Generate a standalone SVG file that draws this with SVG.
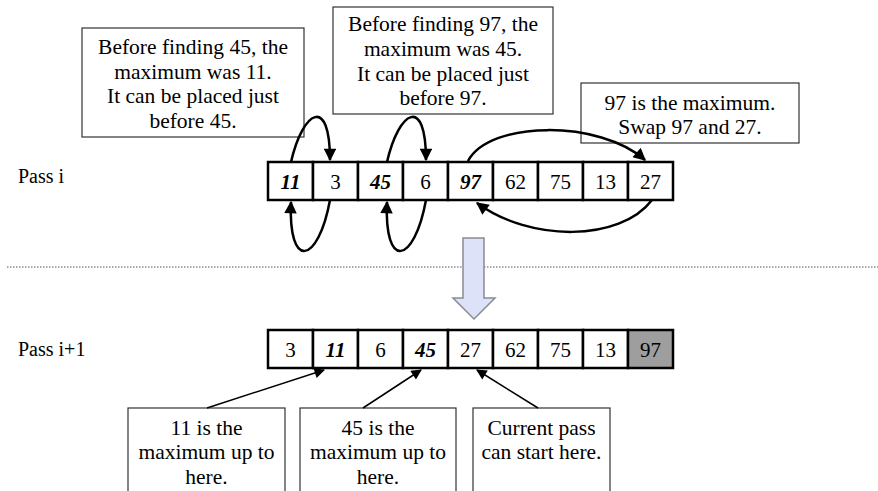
<svg xmlns="http://www.w3.org/2000/svg" width="878" height="491" viewBox="0 0 878 491" font-family="'Liberation Serif', 'DejaVu Serif', 'Times New Roman', serif">
<defs>
<marker id="ah" viewBox="0 0 10 10" refX="9" refY="5" markerWidth="5.5" markerHeight="5" orient="auto" markerUnits="strokeWidth">
<path d="M0,0 L10,5 L0,10 z" fill="#000"/>
</marker>
<marker id="ahs" viewBox="0 0 10 10" refX="9" refY="5" markerWidth="8" markerHeight="7" orient="auto" markerUnits="strokeWidth">
<path d="M0,0 L10,5 L0,10 z" fill="#000"/>
</marker>
<style>
text{font-family:'Liberation Serif','DejaVu Serif','Times New Roman',serif;fill:#000}
.t{font-size:21.5px;text-anchor:middle}
.c{font-size:21px;text-anchor:middle}
.b{font-weight:bold;font-style:italic}
.lbl{font-size:20px}
.cell{fill:#fff;stroke:#000;stroke-width:2.5}
.gray{fill:#9e9e9e}
.box{fill:#fff;stroke:#333;stroke-width:1.2}
.arc{fill:none;stroke:#000;stroke-width:2.5;marker-end:url(#ah)}
.ptr{fill:none;stroke:#000;stroke-width:1.5;marker-end:url(#ahs)}
</style>
</defs>
<text class="lbl" x="18" y="183">Pass i</text>
<text class="lbl" x="18" y="356">Pass i+1</text>
<line x1="7" y1="267" x2="878" y2="267" stroke="#555" stroke-width="1" stroke-dasharray="1.5,1.5"/>
<g id="boxes">
<g id="note1"><rect class="box" x="82" y="28" width="222" height="109"/>
<text class="t" x="193" y="54">Before finding 45, the</text>
<text class="t" x="193" y="79">maximum was 11.</text>
<text class="t" x="193" y="103">It can be placed just</text>
<text class="t" x="193" y="128">before 45.</text></g>
<g id="note2"><rect class="box" x="333" y="7" width="220" height="107"/>
<text class="t" x="443" y="31">Before finding 97, the</text>
<text class="t" x="443" y="56">maximum was 45.</text>
<text class="t" x="443" y="81">It can be placed just</text>
<text class="t" x="443" y="105">before 97.</text></g>
<g id="note3"><rect class="box" x="581" y="83" width="218" height="60"/>
<text class="t" x="690" y="110">97 is the maximum.</text>
<text class="t" x="690" y="134">Swap 97 and 27.</text></g>
<g id="note4"><rect class="box" x="128" y="408" width="157" height="90"/>
<text class="t" x="206.5" y="435">11 is the</text>
<text class="t" x="206.5" y="459">maximum up to</text>
<text class="t" x="206.5" y="484">here.</text></g>
<g id="note5"><rect class="box" x="300" y="408" width="156" height="90"/>
<text class="t" x="378" y="435">45 is the</text>
<text class="t" x="378" y="459">maximum up to</text>
<text class="t" x="378" y="484">here.</text></g>
<g id="note6"><rect class="box" x="473" y="408" width="137" height="90"/>
<text class="t" x="541.5" y="435">Current pass</text>
<text class="t" x="541.5" y="459">can start here.</text></g>
</g>
<g id="row1">
<rect class="cell" x="268" y="162" width="45" height="38"/><text class="c b" x="290.5" y="189">11</text>
<rect class="cell" x="313" y="162" width="45" height="38"/><text class="c" x="335.5" y="189">3</text>
<rect class="cell" x="358" y="162" width="45" height="38"/><text class="c b" x="380.5" y="189">45</text>
<rect class="cell" x="403" y="162" width="45" height="38"/><text class="c" x="425.5" y="189">6</text>
<rect class="cell" x="448" y="162" width="45" height="38"/><text class="c b" x="470.5" y="189">97</text>
<rect class="cell" x="493" y="162" width="45" height="38"/><text class="c" x="515.5" y="189">62</text>
<rect class="cell" x="538" y="162" width="45" height="38"/><text class="c" x="560.5" y="189">75</text>
<rect class="cell" x="583" y="162" width="45" height="38"/><text class="c" x="605.5" y="189">13</text>
<rect class="cell" x="628" y="162" width="45" height="38"/><text class="c" x="650.5" y="189">27</text>
</g>
<g id="row2">
<rect class="cell" x="268" y="330" width="45" height="38"/><text class="c" x="290.5" y="357">3</text>
<rect class="cell" x="313" y="330" width="45" height="38"/><text class="c b" x="335.5" y="357">11</text>
<rect class="cell" x="358" y="330" width="45" height="38"/><text class="c" x="380.5" y="357">6</text>
<rect class="cell" x="403" y="330" width="45" height="38"/><text class="c b" x="425.5" y="357">45</text>
<rect class="cell" x="448" y="330" width="45" height="38"/><text class="c" x="470.5" y="357">27</text>
<rect class="cell" x="493" y="330" width="45" height="38"/><text class="c" x="515.5" y="357">62</text>
<rect class="cell" x="538" y="330" width="45" height="38"/><text class="c" x="560.5" y="357">75</text>
<rect class="cell" x="583" y="330" width="45" height="38"/><text class="c" x="605.5" y="357">13</text>
<rect class="cell gray" x="628" y="330" width="45" height="38"/><text class="c" x="650.5" y="357">97</text>
</g>
<g id="bigarrow">
<polygon points="463,238 484,238 484,298 495,298 474,319 453,298 463,298" fill="#dde2f8" stroke="#8a8a96" stroke-width="1.5"/>
</g>
<g id="connectors">
<path class="arc" d="M291,162 C303,110 330,95 330,160"/>
<path class="arc" d="M330,200 C318,265 288,270 291,202"/>
<path class="arc" d="M387,162 C399,110 426,95 426,160"/>
<path class="arc" d="M426,200 C414,265 384,270 387,202"/>
<path class="arc" d="M468,161 C490,120 600,120 645,160"/>
<path class="arc" d="M652,200 C620,242 530,242 477,203"/>
<path class="ptr" d="M207,408 L324,370"/>
<path class="ptr" d="M363,408 L421,370"/>
<path class="ptr" d="M538,408 L477,370"/>
</g>
</svg>
